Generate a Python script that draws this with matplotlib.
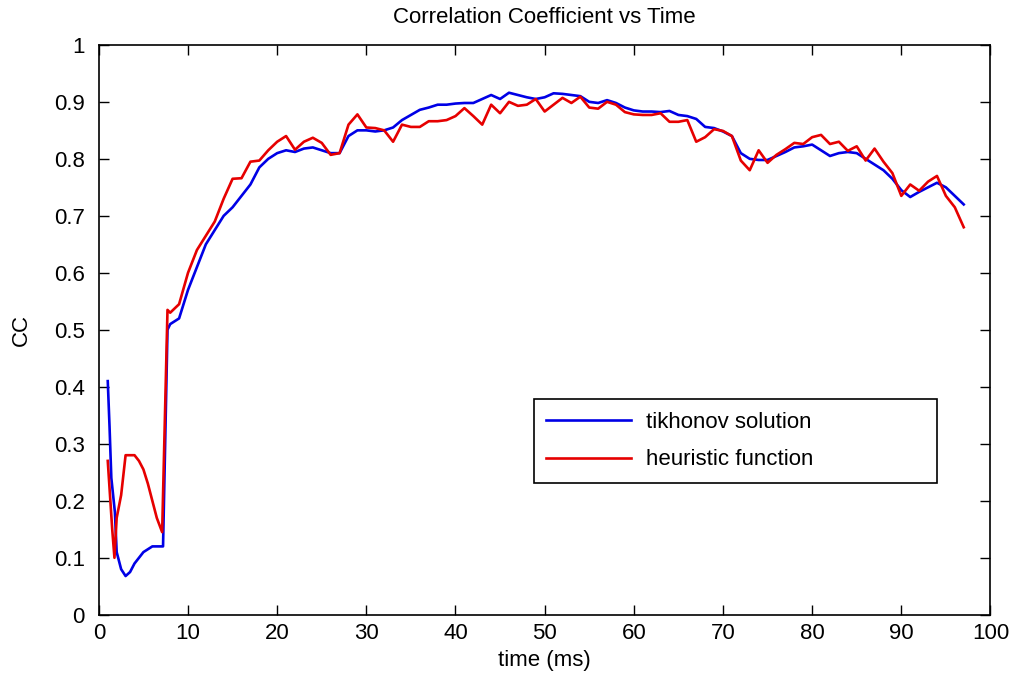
import numpy as np
import matplotlib
matplotlib.use('Agg')
import matplotlib.pyplot as plt

plt.rcParams['font.family'] = ['Liberation Sans', 'DejaVu Sans']

# tikhonov solution (blue)
t_tik = [1, 1.2, 1.4, 1.8, 2, 2.5, 3, 3.5, 4, 4.5, 5, 5.5, 6, 6.5, 7.2, 7.7] + list(range(8, 98))
cc_tik = [0.41, 0.33, 0.24, 0.18, 0.11, 0.08, 0.068, 0.075, 0.09, 0.10, 0.11, 0.115, 0.12, 0.12, 0.12, 0.50,
          0.51, 0.52, 0.57, 0.61, 0.65, 0.675, 0.70, 0.715, 0.735, 0.755,
          0.785, 0.80, 0.81, 0.815, 0.812, 0.818, 0.82, 0.815, 0.81, 0.81,
          0.84, 0.85, 0.85, 0.848, 0.85, 0.855, 0.868, 0.877, 0.886, 0.89,
          0.895, 0.895, 0.897, 0.898, 0.898, 0.905, 0.912, 0.905, 0.916, 0.912,
          0.908, 0.905, 0.908, 0.915, 0.914, 0.912, 0.91, 0.90, 0.898, 0.903,
          0.898, 0.89, 0.885, 0.883, 0.883, 0.882, 0.884, 0.877, 0.875, 0.87,
          0.856, 0.854, 0.848, 0.84, 0.81, 0.80, 0.798, 0.798, 0.805, 0.812,
          0.82, 0.822, 0.825, 0.815, 0.805, 0.81, 0.812, 0.81, 0.80, 0.79,
          0.78, 0.765, 0.745, 0.733, 0.742, 0.75, 0.758, 0.75, 0.735, 0.72]

# heuristic function (red)
t_heu = [1, 1.5, 1.75, 2, 2.5, 3, 3.5, 4, 4.5, 5, 5.5, 6, 6.5, 7.1, 7.7] + list(range(8, 98))
cc_heu = [0.27, 0.15, 0.10, 0.17, 0.21, 0.28, 0.28, 0.28, 0.27, 0.255, 0.23, 0.20, 0.17, 0.145, 0.535,
          0.53, 0.545, 0.60, 0.64, 0.665, 0.69, 0.73, 0.765, 0.766, 0.795,
          0.797, 0.815, 0.83, 0.84, 0.816, 0.83, 0.837, 0.828, 0.807, 0.81,
          0.86, 0.878, 0.855, 0.854, 0.85, 0.83, 0.86, 0.856, 0.856, 0.866,
          0.866, 0.868, 0.875, 0.889, 0.875, 0.86, 0.895, 0.88, 0.90, 0.893,
          0.895, 0.905, 0.883, 0.895, 0.907, 0.898, 0.909, 0.89, 0.888, 0.90,
          0.895, 0.882, 0.878, 0.877, 0.877, 0.88, 0.865, 0.865, 0.868, 0.83,
          0.838, 0.852, 0.849, 0.84, 0.797, 0.78, 0.815, 0.793, 0.807, 0.817,
          0.828, 0.826, 0.838, 0.842, 0.826, 0.83, 0.814, 0.822, 0.797, 0.818,
          0.795, 0.775, 0.735, 0.755, 0.744, 0.76, 0.77, 0.735, 0.715, 0.68]

fig = plt.figure(figsize=(10.19, 6.9), dpi=100)
ax = fig.add_axes([0.097, 0.109, 0.875, 0.826])

ax.plot(t_tik, cc_tik, color='#0000e6', lw=1.9, label='tikhonov solution')
ax.plot(t_heu, cc_heu, color='#e60000', lw=1.9, label='heuristic function')

ax.set_xlim(0, 100)
ax.set_ylim(0, 1)
ax.set_xticks(np.arange(0, 101, 10))
ax.set_yticks(np.arange(0, 1.01, 0.1))
ax.set_yticklabels(['0'] + ['%.1f' % v for v in np.arange(0.1, 0.95, 0.1)] + ['1'])
ax.tick_params(direction='in', top=True, right=True, length=7, labelsize=16, width=1)
ax.tick_params(axis='y', pad=10)
ax.tick_params(axis='x', pad=6)
for s in ax.spines.values():
    s.set_linewidth(1.2)

ax.set_title('Correlation Coefficient vs Time', fontsize=16, pad=16)
ax.set_xlabel('time (ms)', fontsize=16, labelpad=4)
ax.set_ylabel('CC', fontsize=16, labelpad=16)

leg = ax.legend(loc='lower left', bbox_to_anchor=(0.488, 0.232, 0.452, 0.147), mode='expand',
                fontsize=16, handlelength=3.8, handletextpad=0.7, borderaxespad=0,
                borderpad=0.55, fancybox=False, framealpha=1, labelspacing=0.75)
leg.get_frame().set_edgecolor('black')
leg.get_frame().set_linewidth(1.2)

fig.savefig('out.png', dpi=100)
